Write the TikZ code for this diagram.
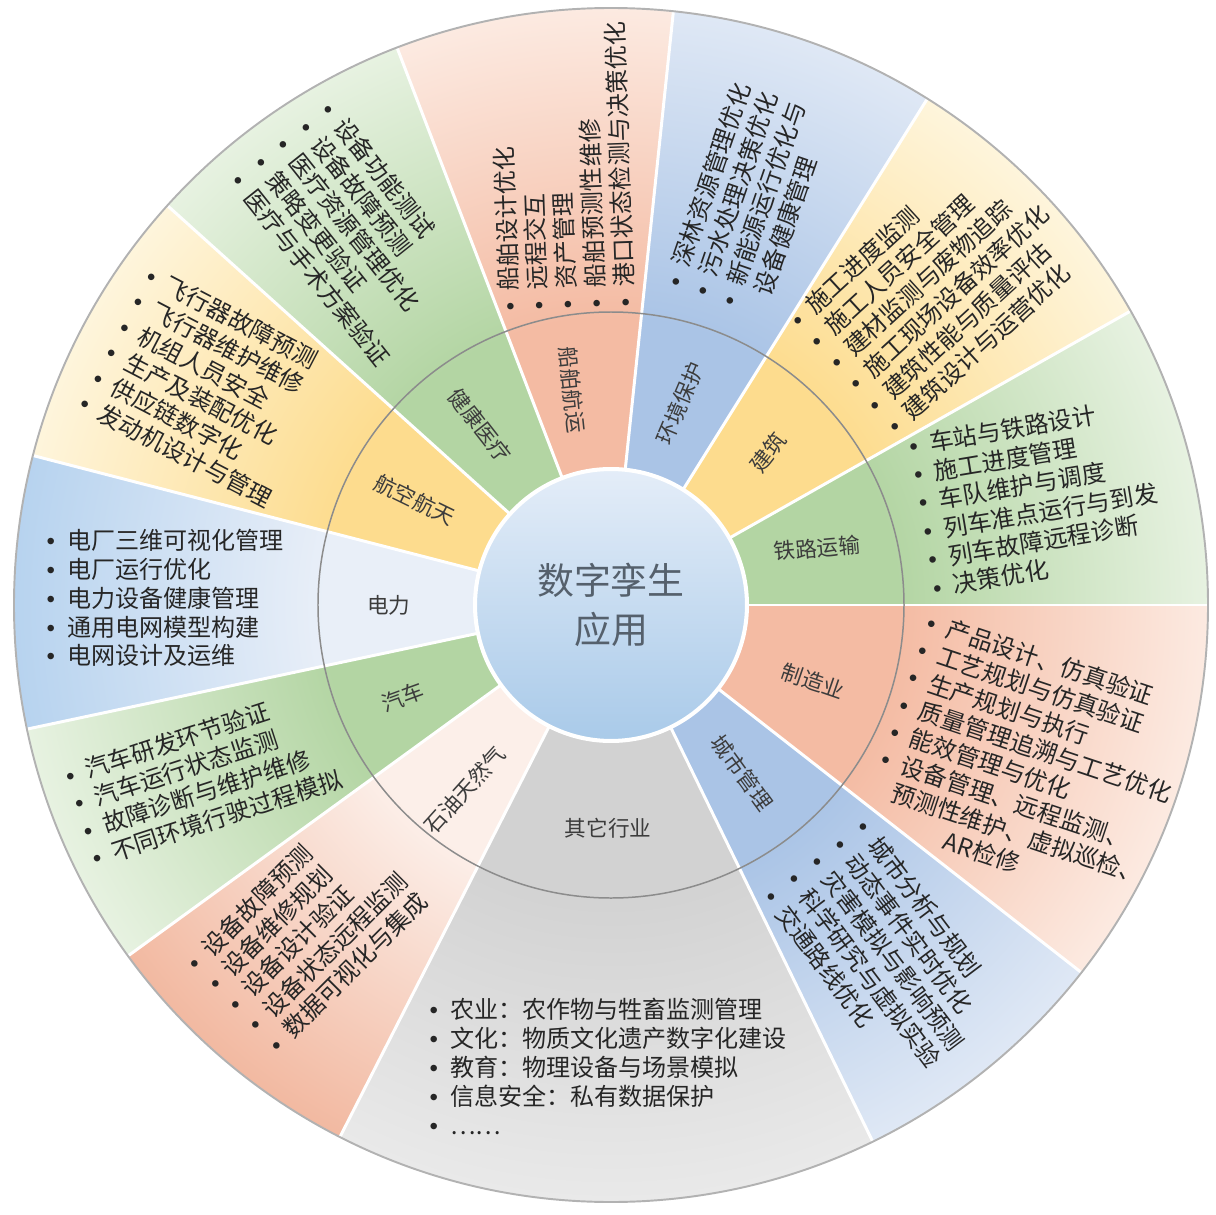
\documentclass[tikz,border=0pt]{standalone}
\usepackage{fontspec}
\usepackage{tikz}
\newfontfamily\cjk{Noto Sans CJK SC}
\newfontfamily\dotfont{Liberation Sans}

\definecolor{salIn}{HTML}{F4BBA3}
\definecolor{salOut}{HTML}{FCEAE1}
\definecolor{bluIn}{HTML}{AAC4E6}
\definecolor{bluOut}{HTML}{DFE8F5}
\definecolor{yelIn}{HTML}{FDDC8E}
\definecolor{yelOut}{HTML}{FEF5DC}
\definecolor{grnIn}{HTML}{B3D5A3}
\definecolor{grnOut}{HTML}{E7F2E1}
\definecolor{gryIn}{HTML}{D2D2D2}
\definecolor{gryOut}{HTML}{E9E9E9}
\definecolor{pwrIn}{HTML}{E9EFF8}
\definecolor{pwrOut}{HTML}{B7D3EF}
\definecolor{oilIn}{HTML}{FCEFE9}
\definecolor{oilOut}{HTML}{F2B9A1}
\definecolor{hubTop}{HTML}{E4EDF8}
\definecolor{hubBot}{HTML}{A9CAE9}
\definecolor{txtcol}{HTML}{262626}
\definecolor{lblcol}{HTML}{3C3C3C}
\definecolor{hubtxt}{HTML}{55606C}
\colorlet{secI}{white}
\colorlet{secO}{white}
\pgfdeclareradialshading[secI,secO]{sector}{\pgfpoint{0bp}{0bp}}{color(0bp)=(secI); color(12bp)=(secI); color(25bp)=(secO); color(50bp)=(secO)}

\newcommand{\bul}{\makebox[0.9em][l]{\hspace{0.05em}{\dotfont •}}}
\newcommand{\cont}{\hspace*{0.9em}}

\tikzstyle{itemlist} = [inner sep=0pt, anchor=north west, align=left, text=txtcol, font=\cjk\fontsize{13.7pt}{16.4pt}\selectfont]
\tikzstyle{seclabel} = [inner sep=0pt, text=lblcol, font=\cjk\fontsize{12.3pt}{15pt}\selectfont]
\tikzstyle{hub} = [circle, minimum size=5.44cm, inner sep=0pt, draw=white, line width=2.3pt, top color=hubTop, bottom color=hubBot, text=hubtxt, align=center, font=\cjk\fontsize{21pt}{28.3pt}\selectfont]
\tikzstyle{sepline} = [white, line width=1.7pt]
\tikzstyle{midring} = [draw=black!45, line width=0.85pt]
\tikzstyle{rim} = [draw=black!30, line width=1.1pt]

\begin{document}
\begin{tikzpicture}[x=0.02cm, y=0.02cm]
  \useasboundingbox (-611,-609) rectangle (605,605);

  % sectors
  \foreach \from/\to/\ci/\co in {0/29.5/grnIn/grnOut, 29.5/58/yelIn/yelOut, 58/84/bluIn/bluOut, 84/111/salIn/salOut, 111/138/grnIn/grnOut, 138/165.5/yelIn/yelOut, 165.5/192/pwrIn/pwrOut, 192/216/grnIn/grnOut, 216/243/oilIn/oilOut, 243/296/gryIn/gryOut, 296/322/bluIn/bluOut, 322/360/salIn/salOut} {
    \colorlet{secI}{\ci}
    \colorlet{secO}{\co}
    \begin{scope}
      \clip (0,0) -- (\from:600) arc[start angle=\from, end angle=\to, radius=600] -- cycle;
      \shade[shading=sector] (0,0) circle (597);
    \end{scope}
  }
  \foreach \a in {0,29.5,58,84,111,138,165.5,192,216,243,296,322}
    \draw[sepline] (\a:130) -- (\a:598);
  \draw[midring] (0,0) circle (293);
  \draw[rim] (0,0) circle (597);

  \node[hub] (hub) at (0,0) {数字孪生\\应用};

  % sector names
  \node[seclabel, rotate=-84] (shipL) at (-39,215) {船舶航运};
  \node[seclabel, rotate=67] (envL) at (69,202) {环境保护};
  \node[seclabel, rotate=52] (buildL) at (157,153) {建筑};
  \node[seclabel, rotate=5] (railL) at (206,57) {铁路运输};
  \node[seclabel, rotate=-19] (manuL) at (202,-76) {制造业};
  \node[seclabel, rotate=-54] (cityL) at (131,-168) {城市管理};
  \node[seclabel] (otherL) at (-3,-223) {其它行业};
  \node[seclabel, rotate=48] (oilL) at (-146,-185) {石油天然气};
  \node[seclabel, rotate=20] (carL) at (-208,-92) {汽车};
  \node[seclabel] (powerL) at (-222,0) {电力};
  \node[seclabel, rotate=-26] (aeroL) at (-196,105) {航空航天};
  \node[seclabel, rotate=-52] (healthL) at (-131,180) {健康医疗};

  % item lists
  \node[itemlist, rotate=92] (shipI) at (-113,292) {\bul 船舶设计优化\\\bul 远程交互\\\bul 资产管理\\\bul 船舶预测性维修\\\bul 港口状态检测与决策优化};
  \node[itemlist, rotate=71] (envI) at (51,322) {\bul 深林资源管理优化\\\bul 污水处理决策优化\\\bul 新能源运行优化与\\\cont 设备健康管理};
  \node[itemlist, rotate=42.5] (buildI) at (174,290) {\bul 施工进度监测\\\bul 施工人员安全管理\\\bul 建材监测与废物追踪\\\bul 施工现场设备效率优化\\\bul 建筑性能与质量评估\\\bul 建筑设计与运营优化};
  \node[itemlist, rotate=9.5] (railI) at (295,170) {\bul 车站与铁路设计\\\bul 施工进度管理\\\bul 车队维护与调度\\\bul 列车准点运行与到发\\\bul 列车故障远程诊断\\\bul 决策优化};
  \node[itemlist, rotate=-18.5] (manuI) at (319,-5) {\bul 产品设计、仿真验证\\\bul 工艺规划与仿真验证\\\bul 生产规划与执行\\\bul 质量管理追溯与工艺优化\\\bul 能效管理与优化\\\bul 设备管理、远程监测、\\\cont 预测性维护、虚拟巡检、\\\cont\hspace*{2.7em}AR检修};
  \node[itemlist, rotate=-53] (cityI) at (259,-210) {\bul 城市分析与规划\\\bul 动态事件实时优化\\\bul 灾害模拟与影响预测\\\bul 科学研究与虚拟实验\\\bul 交通路线优化};
  \node[itemlist] (otherI) at (-183,-393) {\bul 农业：农作物与牲畜监测管理\\\bul 文化：物质文化遗产数字化建设\\\bul 教育：物理设备与场景模拟\\\bul 信息安全：私有数据保护\\\bul ……};
  \node[itemlist, rotate=45] (oilI) at (-429,-354) {\bul 设备故障预测\\\bul 设备维修规划\\\bul 设备设计验证\\\bul 设备状态远程监测\\\bul 数据可视化与集成};
  \node[itemlist, rotate=18] (carI) at (-550,-161) {\bul 汽车研发环节验证\\\bul 汽车运行状态监测\\\bul 故障诊断与维护维修\\\bul 不同环境行驶过程模拟};
  \node[itemlist] (powerI) at (-566,76) {\bul 电厂三维可视化管理\\\bul 电厂运行优化\\\bul 电力设备健康管理\\\bul 通用电网模型构建\\\bul 电网设计及运维};
  \node[itemlist, rotate=-27.5] (aeroI) at (-459,342) {\bul 飞行器故障预测\\\bul 飞行器维护维修\\\bul 机组人员安全\\\bul 生产及装配优化\\\bul 供应链数字化\\\bul 发动机设计与管理};
  \node[itemlist, rotate=-51.5] (healthI) at (-276,508) {\bul 设备功能测试\\\bul 设备故障预测\\\bul 医疗资源管理优化\\\bul 策略变更验证\\\bul 医疗与手术方案验证};
\end{tikzpicture}
\end{document}
